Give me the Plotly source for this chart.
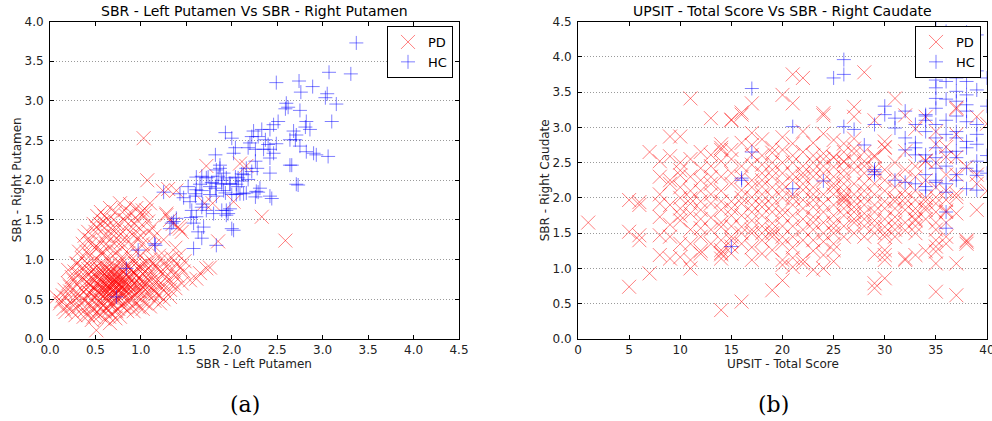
import plotly.graph_objects as go

# Panel (a): SBR left putamen (x) vs SBR right putamen (y)
pd_putamen = [
    (1.03, 2.53), (1.07, 2.00), (1.24, 1.87), (1.72, 2.18), (2.09, 2.21), (2.16, 2.18),
    (2.33, 1.54), (2.59, 1.24), (1.85, 1.23), (2.02, 1.73), (1.70, 1.71), (1.76, 0.90),
    (1.65, 0.83), (1.61, 0.76), (1.72, 0.89), (1.43, 1.39), (1.28, 1.58), (1.30, 1.89),
    (1.39, 1.87), (0.77, 1.71), (1.10, 1.71), (1.06, 1.62), (0.99, 1.58), (0.59, 1.48),
    (0.51, 1.41), (1.28, 1.56), (1.32, 1.50), (1.41, 1.41), (1.45, 1.35), (1.39, 0.95),
    (1.47, 0.85), (1.36, 0.81), (1.28, 0.91), (1.54, 0.74), (1.45, 0.70), (1.38, 0.64),
    (1.25, 0.62), (1.17, 0.57), (1.32, 0.53), (1.21, 0.45), (1.10, 0.41), (0.11, 0.45),
    (0.17, 0.34), (0.07, 0.53), (0.37, 0.28), (0.46, 0.24), (0.51, 0.11), (0.66, 0.20),
    (0.77, 0.28), (0.20, 0.87), (0.29, 0.95), (0.26, 0.74), (0.22, 0.66), (1.35, 1.45),
    (1.79, 1.71),
    (0.35, 0.62), (0.38, 0.80), (0.40, 0.55), (0.41, 0.95), (0.42, 0.70), (0.43, 0.45),
    (0.44, 1.05), (0.45, 0.85), (0.46, 0.60), (0.47, 0.38), (0.48, 0.75), (0.49, 1.15),
    (0.50, 0.52), (0.50, 0.90), (0.51, 0.68), (0.52, 1.00), (0.53, 0.42), (0.53, 0.78),
    (0.54, 0.58), (0.55, 1.22), (0.55, 0.88), (0.56, 0.65), (0.57, 0.48), (0.57, 1.08),
    (0.58, 0.72), (0.58, 0.95), (0.59, 0.55), (0.60, 0.82), (0.60, 1.30), (0.61, 0.62),
    (0.62, 0.40), (0.62, 1.02), (0.63, 0.75), (0.63, 0.90), (0.64, 0.52), (0.65, 1.15),
    (0.65, 0.68), (0.66, 0.85), (0.66, 0.58), (0.67, 1.40), (0.67, 0.95), (0.68, 0.72),
    (0.68, 0.45), (0.69, 1.05), (0.70, 0.62), (0.70, 0.80), (0.71, 0.55), (0.71, 1.20),
    (0.72, 0.92), (0.72, 0.70), (0.73, 0.35), (0.73, 0.85), (0.74, 1.10), (0.74, 0.60),
    (0.75, 0.78), (0.75, 0.50), (0.76, 1.30), (0.76, 0.95), (0.77, 0.68), (0.77, 0.88),
    (0.78, 0.58), (0.78, 1.02), (0.79, 0.75), (0.79, 0.42), (0.80, 1.15), (0.80, 0.65),
    (0.81, 0.85), (0.81, 0.55), (0.82, 1.50), (0.82, 0.98), (0.83, 0.72), (0.83, 0.62),
    (0.84, 1.25), (0.84, 0.80), (0.85, 0.48), (0.85, 0.92), (0.86, 0.68), (0.86, 1.08),
    (0.87, 0.58), (0.87, 0.78), (0.88, 1.35), (0.88, 0.88), (0.89, 0.65), (0.90, 1.00),
    (0.90, 0.52), (0.91, 0.75), (0.91, 1.18), (0.92, 0.62), (0.92, 0.85), (0.93, 1.45),
    (0.93, 0.70), (0.94, 0.95), (0.94, 0.55), (0.95, 0.80), (0.95, 1.10), (0.96, 0.66),
    (0.97, 1.28), (0.97, 0.88), (0.98, 0.60), (0.98, 0.76), (0.99, 1.05), (1.00, 0.68),
    (1.00, 0.92), (1.01, 0.58), (1.02, 1.20), (1.02, 0.82), (1.03, 0.70), (1.04, 1.55),
    (1.04, 0.95), (1.05, 0.62), (1.06, 0.78), (1.06, 1.12), (1.07, 0.88), (1.08, 0.55),
    (1.09, 1.35), (1.10, 0.72), (1.10, 1.00), (1.12, 0.65), (1.12, 0.85), (1.14, 1.18),
    (1.15, 0.60), (1.16, 0.92), (1.18, 0.75), (1.20, 1.05), (1.20, 0.55), (1.22, 0.85),
    (1.24, 0.68), (1.25, 1.25), (1.28, 0.78), (1.30, 1.00), (1.32, 0.62), (1.35, 0.88),
    (1.38, 1.15),
    (0.52, 0.70), (0.55, 0.75), (0.58, 0.64), (0.60, 0.70), (0.62, 0.85), (0.64, 0.66),
    (0.66, 0.74), (0.68, 0.60), (0.70, 0.88), (0.72, 0.64), (0.74, 0.72), (0.76, 0.62),
    (0.78, 0.80), (0.80, 0.72), (0.57, 0.85), (0.61, 0.56), (0.65, 0.80), (0.69, 0.68),
    (0.73, 0.78), (0.77, 0.52), (0.53, 0.60), (0.59, 0.90), (0.63, 0.60), (0.67, 0.52),
    (0.71, 0.74), (0.75, 0.68), (0.79, 0.64), (0.83, 0.90), (0.48, 0.65), (0.46, 0.78),
    (0.44, 0.58), (0.42, 0.88), (0.40, 0.72), (0.38, 0.48), (0.36, 0.90), (0.34, 0.75),
    (0.33, 0.55), (0.31, 0.40), (0.30, 0.68), (0.28, 0.58), (0.27, 0.85), (0.25, 0.50),
    (0.24, 0.35), (0.22, 0.60), (0.20, 0.42), (0.18, 0.52), (0.15, 0.38), (0.12, 0.48),
    (0.45, 1.20), (0.50, 1.35), (0.55, 1.45), (0.60, 1.55), (0.62, 1.20), (0.64, 1.30),
    (0.70, 1.50), (0.73, 1.38), (0.78, 1.22), (0.82, 1.62), (0.86, 1.45), (0.90, 1.58),
    (0.95, 1.65), (0.98, 1.40), (1.00, 1.30), (1.02, 1.62), (1.08, 1.48), (1.12, 1.40),
    (1.15, 1.30), (0.40, 1.10), (0.35, 1.02), (0.58, 1.10), (0.52, 1.15), (0.47, 0.98),
    (0.55, 0.30), (0.60, 0.35), (0.65, 0.28), (0.70, 0.42), (0.75, 0.38), (0.80, 0.45),
    (0.85, 0.35), (0.90, 0.42), (0.95, 0.45), (1.00, 0.50), (1.05, 0.45), (0.50, 0.32),
    (0.45, 0.42), (0.62, 0.50), (0.66, 0.44), (0.72, 0.48), (0.58, 0.42), (0.88, 0.50),
    (0.98, 0.40), (1.15, 0.48), (1.25, 0.50),
    (0.30, 0.95), (0.32, 1.10), (0.36, 1.20), (0.38, 1.30), (0.42, 1.35), (0.44, 1.25),
    (0.48, 1.45), (0.52, 1.55), (0.56, 1.60), (0.60, 1.40), (0.64, 1.50), (0.66, 1.65),
    (0.70, 1.30), (0.72, 1.60), (0.75, 1.45), (0.80, 1.35), (0.84, 1.55), (0.88, 1.70),
    (0.92, 1.30), (0.96, 1.50),
    (0.40, 0.62), (0.42, 0.80), (0.44, 0.68), (0.46, 0.50), (0.48, 0.88), (0.50, 0.62),
    (0.52, 0.82), (0.54, 0.48), (0.56, 0.72), (0.58, 0.80), (0.60, 0.60), (0.62, 0.68),
    (0.64, 0.78), (0.66, 0.65), (0.68, 0.85), (0.70, 0.70), (0.72, 0.58), (0.74, 0.82),
    (0.76, 0.72), (0.78, 0.66), (0.80, 0.58), (0.82, 0.78), (0.84, 0.66), (0.86, 0.90),
    (0.88, 0.60), (0.90, 0.80), (0.92, 0.70), (0.94, 0.82), (0.96, 0.60), (0.98, 0.92),
    (1.00, 0.75), (1.02, 0.65), (1.04, 0.85), (1.06, 0.70), (1.08, 0.95), (1.10, 0.60),
    (1.12, 0.78), (1.14, 0.95), (1.16, 0.70), (1.18, 0.88), (1.20, 0.68), (1.22, 1.00),
    (1.26, 0.85), (1.30, 0.72), (1.34, 1.02), (1.36, 0.70), (1.40, 0.80), (1.42, 1.05),
    (1.44, 0.90), (1.48, 0.98),
    (0.34, 0.45), (0.38, 0.36), (0.42, 0.30), (0.48, 0.28), (0.55, 0.38), (0.60, 0.25),
    (0.64, 0.36), (0.68, 0.32), (0.72, 0.26), (0.82, 0.40), (0.92, 0.35), (1.02, 0.38),
    (0.28, 0.30), (0.26, 0.42), (0.30, 0.52), (0.32, 0.82), (0.24, 0.78), (0.20, 0.70),
    (0.16, 0.62), (0.14, 0.55),
]

hc_putamen = [
    (3.37, 3.73), (3.07, 3.36), (3.31, 3.34), (2.49, 3.23), (2.74, 3.25), (2.89, 3.18),
    (2.76, 3.11), (3.05, 3.09), (3.03, 3.04), (3.15, 2.96), (2.60, 2.97), (2.62, 2.92),
    (2.59, 2.90), (2.75, 2.88), (3.10, 2.74), (2.82, 2.74), (2.81, 2.67), (2.86, 2.64),
    (2.51, 2.74), (2.46, 2.70), (2.42, 2.64), (2.33, 2.64), (2.29, 2.55), (2.24, 2.62),
    (2.22, 2.55), (1.93, 2.60), (2.00, 2.53), (2.68, 2.62), (2.71, 2.57), (2.70, 2.51),
    (2.64, 2.51), (2.75, 2.43), (2.82, 2.36), (2.93, 2.32), (3.06, 2.30), (2.37, 2.51),
    (2.40, 2.45), (2.35, 2.39), (2.42, 2.39), (2.49, 2.46), (2.46, 2.34), (2.42, 2.28),
    (2.20, 2.47), (2.18, 2.41), (2.26, 2.39), (2.04, 2.41), (2.02, 2.34), (1.82, 2.32),
    (2.66, 2.19), (2.42, 2.09), (2.26, 2.24), (2.28, 2.15), (2.22, 2.11), (2.16, 2.15),
    (2.13, 2.07), (2.18, 2.01), (2.11, 1.99), (2.07, 2.03), (2.05, 1.95), (1.87, 2.15),
    (1.91, 2.09), (1.85, 2.05), (1.94, 2.03), (1.98, 1.95), (1.89, 1.95), (1.82, 1.90),
    (1.78, 1.97), (1.72, 2.03), (1.67, 2.05), (1.65, 1.95), (1.61, 1.88), (1.76, 1.82),
    (1.83, 1.80), (1.93, 1.84), (2.00, 1.82), (2.05, 1.82), (2.16, 1.84), (2.27, 1.86),
    (2.31, 1.90), (2.42, 1.80), (2.71, 1.95), (1.60, 1.80), (1.47, 1.78), (1.25, 1.85),
    (1.39, 1.52), (1.36, 1.48), (1.32, 1.39), (1.34, 1.46), (0.97, 1.12), (1.16, 1.18),
    (0.84, 0.89), (0.73, 0.53), (1.58, 1.14), (1.83, 1.18), (2.00, 1.39), (1.67, 1.27),
    (1.63, 1.35), (1.69, 1.41), (1.58, 1.46), (1.61, 1.54), (1.56, 1.62), (1.67, 1.66),
    (1.72, 1.62), (1.80, 1.58), (1.89, 1.62), (1.94, 1.56), (1.98, 1.64), (1.54, 1.73),
    (1.43, 1.83), (1.60, 1.83), (1.67, 1.87), (1.76, 1.92), (1.83, 1.96), (1.91, 1.87),
    (1.89, 2.00), (1.98, 1.96), (2.04, 2.04), (2.07, 1.92), (2.13, 1.83), (2.11, 2.08),
    (1.83, 2.13), (1.87, 2.19), (1.74, 2.04), (1.61, 2.04), (2.64, 2.19), (2.73, 1.94),
    (2.44, 1.77), (2.29, 1.85), (2.26, 1.79), (2.02, 1.37), (1.94, 1.62), (1.96, 1.58),
    (2.09, 1.83), (2.90, 2.34), (1.15, 1.20), (1.55, 1.53), (1.68, 1.70), (1.52, 1.92),
]

# Panel (b): UPSIT total score (integer) -> SBR right caudate values
pd_upsit = {
    1: [1.65],
    5: [0.74, 1.52, 1.97],
    6: [1.94, 1.90, 1.47, 1.40],
    7: [0.93, 2.65],
    8: [1.19, 1.47, 1.73, 1.92, 2.30, 2.52, 2.05],
    9: [1.14, 1.45, 1.90, 2.20, 2.25, 2.59, 2.87, 1.62],
    10: [1.16, 1.68, 1.75, 2.32, 2.39, 2.87, 2.00, 1.35, 2.15, 1.85, 2.50],
    11: [1.00, 1.12, 1.92, 1.99, 3.41, 2.30, 1.55, 2.55, 1.78, 1.35, 2.10],
    12: [1.21, 1.45, 1.57, 1.83, 2.42, 1.25, 2.10, 2.65, 1.70, 2.25, 1.95],
    13: [1.92, 2.20, 2.30, 3.13, 2.61, 1.35, 1.72, 2.05, 1.55, 2.45],
    14: [0.41, 1.14, 1.26, 1.59, 1.83, 2.52, 2.68, 2.71, 2.76, 1.22, 1.20, 2.10, 1.40,
         1.65, 1.95, 2.30],
    15: [1.21, 1.31, 1.45, 2.20, 2.68, 3.11, 1.85, 1.95, 1.40, 2.35, 3.10, 1.60, 2.55, 1.75],
    16: [0.53, 1.59, 1.92, 2.11, 2.78, 3.18, 3.21, 1.35, 2.45, 1.75, 1.50, 2.00, 2.30],
    17: [1.12, 1.50, 1.68, 1.80, 2.01, 2.47, 2.61, 2.92, 3.34, 1.30, 2.25, 1.55, 1.90,
         2.15, 2.75],
    18: [1.21, 1.40, 1.87, 2.16, 2.25, 2.47, 2.83, 1.60, 2.60, 1.95, 1.50, 1.75, 2.05, 2.35],
    19: [0.69, 1.26, 1.64, 2.01, 2.30, 2.64, 2.71, 1.50, 1.45, 2.40, 1.80, 1.55, 1.90,
         2.15, 2.50],
    20: [0.83, 1.12, 1.45, 1.83, 2.11, 2.86, 3.46, 2.68, 1.05, 2.00, 2.20, 1.35, 1.60,
         1.75, 2.35, 2.50],
    21: [1.02, 1.45, 2.25, 2.34, 2.77, 2.60, 3.75, 3.34, 1.60, 1.90, 1.15, 2.05, 1.75,
         2.00, 2.50, 1.30],
    22: [1.12, 1.07, 1.97, 2.11, 2.65, 2.94, 3.70, 2.30, 1.55, 1.70, 2.45, 1.85, 2.20,
         2.35, 1.40],
    23: [0.98, 1.40, 1.73, 1.87, 1.97, 2.39, 2.78, 1.25, 1.55, 2.15, 2.50, 1.65, 2.05,
         2.30, 2.60],
    24: [1.19, 1.38, 1.92, 2.25, 2.91, 3.17, 3.20, 2.63, 1.65, 2.45, 2.05, 1.00, 1.50,
         1.80, 2.35, 2.55],
    25: [1.26, 1.57, 1.64, 2.20, 2.58, 2.44, 2.57, 2.82, 1.90, 2.05, 1.35, 1.10, 1.75,
         2.15, 2.30, 1.50],
    26: [1.45, 1.94, 2.03, 2.39, 2.51, 2.52, 2.77, 2.10, 1.75, 1.60, 2.00, 1.98, 1.85,
         2.20, 2.30, 2.65],
    27: [1.87, 2.70, 2.84, 3.29, 3.15, 2.63, 1.65, 1.95, 2.20, 1.50, 1.80, 1.70, 2.05,
         2.40, 2.50],
    28: [1.78, 2.20, 2.65, 3.78, 2.52, 1.45, 1.60, 2.00, 1.90, 1.70, 2.10, 2.35, 2.45],
    29: [0.72, 0.79, 1.68, 2.42, 2.58, 3.10, 1.20, 2.20, 1.50, 1.90, 2.35, 1.60, 1.80,
         2.05, 2.60],
    30: [0.86, 1.12, 1.19, 1.45, 1.59, 1.26, 2.72, 2.80, 2.71, 1.50, 2.10, 1.95, 1.70,
         1.85, 2.25, 2.40],
    31: [1.64, 1.73, 3.41, 2.00, 2.30, 1.45, 1.85, 1.55, 1.95, 2.15, 2.50],
    32: [1.14, 1.12, 1.54, 1.83, 1.92, 2.66, 3.17, 2.40, 2.10, 1.65, 2.00, 2.25],
    33: [1.19, 1.68, 1.70, 1.97, 1.78, 2.98, 2.30, 1.50, 1.60, 1.85, 2.10, 2.45],
    34: [1.83, 1.87, 2.52, 2.53, 3.15, 2.00, 1.25, 1.70, 1.95, 2.25],
    35: [1.07, 1.24, 1.31, 1.40, 0.67, 1.92, 2.01, 2.76, 2.94, 1.65, 2.50, 1.55, 1.80, 2.15],
    36: [1.35, 1.45, 1.80, 1.97, 2.33, 2.72, 2.58, 1.82, 1.65, 2.10],
    37: [0.62, 1.07, 1.78, 2.01, 2.06, 2.33, 2.58, 2.90, 3.26, 3.28],
    38: [1.35, 1.40, 2.44, 1.38],
    39: [1.83, 2.33, 3.15, 2.20],
    40: [2.10, 3.05],
}

hc_upsit = {
    15: [1.31],
    16: [2.28, 2.25],
    17: [2.65, 3.55],
    21: [2.13, 3.01],
    24: [2.24],
    25: [3.70],
    26: [3.75, 3.96, 3.01],
    27: [2.97],
    28: [2.75],
    29: [2.37, 2.40, 2.33, 3.04],
    30: [3.30, 3.18],
    31: [3.13, 2.99, 2.25],
    32: [3.23, 2.22, 2.85, 2.68],
    33: [2.20, 2.78, 2.71, 2.61, 3.04],
    34: [2.16, 2.11, 2.52, 3.16, 3.10, 2.61, 3.18, 2.94, 2.33],
    35: [2.22, 2.25, 3.67, 3.56, 3.41, 3.27, 3.04, 2.85, 2.71, 2.57, 2.42, 4.42, 3.90],
    36: [4.36, 2.20, 2.08, 1.80, 1.57, 3.40, 3.10, 2.90, 2.45, 3.65, 2.65],
    37: [2.25, 3.70, 3.51, 3.37, 3.16, 2.94, 2.85, 2.66, 2.57, 2.33, 4.00],
    38: [2.13, 3.65, 3.46, 3.32, 3.23, 3.08, 2.80, 2.71, 2.42, 3.90, 4.35],
    39: [4.31, 2.11, 2.32, 3.53, 3.04, 2.76, 2.52, 2.38, 3.80, 2.90],
    40: [2.60, 3.30, 2.35, 3.70],
}

RED = "rgba(255,0,0,0.5)"
BLUE = "rgba(0,0,255,0.5)"
FONT = "DejaVu Sans"


def unzip(pairs):
    return [p[0] for p in pairs], [p[1] for p in pairs]


def flatten(groups):
    xs, ys = [], []
    for score, values in groups.items():
        for v in values:
            xs.append(score)
            ys.append(v)
    return xs, ys


def pd_trace(x, y, xa, ya, lg):
    return go.Scatter(
        x=x, y=y, xaxis=xa, yaxis=ya, mode="markers", name="PD", legend=lg,
        marker=dict(symbol="x-thin", size=14, color=RED, line=dict(width=1, color=RED)),
        cliponaxis=True,
    )


def hc_trace(x, y, xa, ya, lg):
    return go.Scatter(
        x=x, y=y, xaxis=xa, yaxis=ya, mode="markers", name="HC", legend=lg,
        marker=dict(symbol="cross-thin", size=10, color=BLUE, line=dict(width=1, color=BLUE)),
        cliponaxis=True,
    )


fig = go.Figure()
ax, ay = unzip(pd_putamen)
bx, by = unzip(hc_putamen)
fig.add_trace(pd_trace(ax, ay, "x", "y", "legend"))
fig.add_trace(hc_trace(bx, by, "x", "y", "legend"))
cx, cy = flatten(pd_upsit)
dx, dy = flatten(hc_upsit)
fig.add_trace(pd_trace(cx, cy, "x2", "y2", "legend2"))
fig.add_trace(hc_trace(dx, dy, "x2", "y2", "legend2"))

W, H = 992, 421
axis_common = dict(
    showline=True, linecolor="black", linewidth=1, mirror="allticks",
    ticks="inside", ticklen=4, tickcolor="black", tickwidth=1,
    zeroline=False, tickfont=dict(family=FONT, size=12, color="#222"),
    automargin=False, ticklabeloverflow="allow",
)
ygrid = dict(showgrid=True, gridcolor="#9a9a9a", griddash="1px,2px", gridwidth=1)

PLOT_TOP, PLOT_BOTTOM = 21.5, 339
ydom = [(H - PLOT_BOTTOM) / H, (H - PLOT_TOP) / H]
LEFT_PX = (50, 459)
RIGHT_PX = (578, 987)

legend_style = dict(
    xanchor="right", y=(H - 26) / H, yanchor="top",
    bordercolor="black", borderwidth=1, bgcolor="white",
    font=dict(family=FONT, size=13, color="black"), itemsizing="trace",
    tracegroupgap=0,
)

fig.update_layout(
    width=W, height=H, margin=dict(l=0, r=0, t=0, b=0, autoexpand=False),
    paper_bgcolor="white", plot_bgcolor="white",
    font=dict(family=FONT, size=12, color="#222"),
    xaxis=dict(domain=[LEFT_PX[0] / W, LEFT_PX[1] / W], range=[0, 4.5], dtick=0.5,
               tickformat=".1f", showgrid=False, anchor="y", ticklabelstandoff=0,
               **axis_common),
    yaxis=dict(domain=ydom, range=[0, 4.0], dtick=0.5, tickformat=".1f", anchor="x",
               ticklabelstandoff=3, **ygrid, **axis_common),
    xaxis2=dict(domain=[RIGHT_PX[0] / W, RIGHT_PX[1] / W], range=[0, 40], dtick=5,
                tickformat="d", showgrid=False, anchor="y2", ticklabelstandoff=0,
                **axis_common),
    yaxis2=dict(domain=ydom, range=[0, 4.5], dtick=0.5, tickformat=".1f", anchor="x2",
                ticklabelstandoff=3, **ygrid, **axis_common),
    legend=dict(x=453 / W, **legend_style),
    legend2=dict(x=981 / W, **legend_style),
    showlegend=True,
)


def label(text, xpx, ypx, size, family=FONT, angle=0, color="black"):
    fig.add_annotation(text=text, x=xpx / W, y=(H - ypx) / H, xref="paper", yref="paper",
                       showarrow=False, xanchor="center", yanchor="middle", textangle=angle,
                       font=dict(family=family, size=size, color=color))


ymid = (PLOT_TOP + PLOT_BOTTOM) / 2
for (x0, x1), title, xlab, ylab, ylab_x in [
    (LEFT_PX, "SBR - Left Putamen Vs SBR - Right Putamen",
     "SBR - Left Putamen", "SBR - Right Putamen", 17),
    (RIGHT_PX, "UPSIT - Total Score Vs SBR - Right Caudate",
     "UPSIT - Total Score", "SBR - Right Caudate", 545),
]:
    xmid = (x0 + x1) / 2
    label(title, xmid, 11, 14)
    label(xlab, xmid, 364, 12, color="#222")
    label(ylab, ylab_x, ymid, 12, angle=-90, color="#222")

label("(a)", 245, 404, 22, family="DejaVu Serif")
label("(b)", 773, 404, 22, family="DejaVu Serif")

fig.write_html("out.html")
